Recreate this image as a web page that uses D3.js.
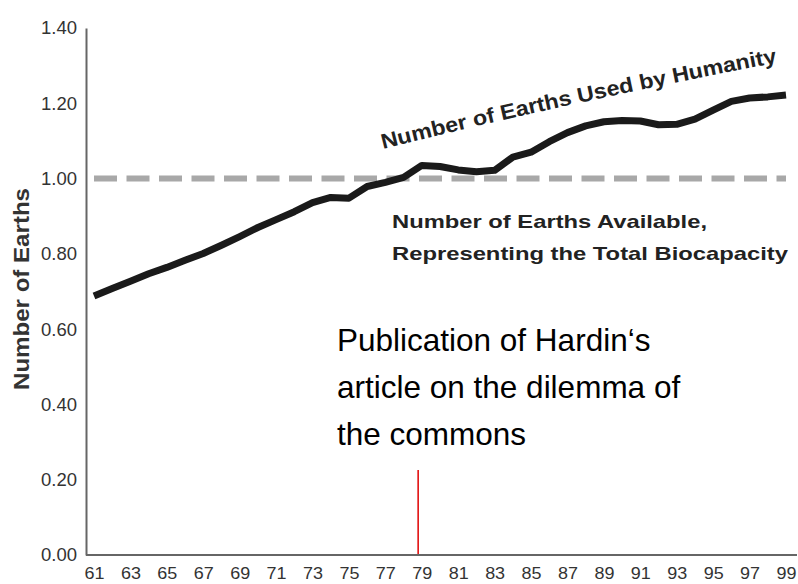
<!DOCTYPE html>
<html>
<head>
<meta charset="utf-8">
<script src="https://cdn.jsdelivr.net/npm/d3@7"></script>
<style>
  body { margin: 0; background: #fff; }
  text { font-family: "Liberation Sans", Arial, sans-serif; }
</style>
</head>
<body>
<div id="chart"></div>
<script>
// data
const years = [61,62,63,64,65,66,67,68,69,70,71,72,73,74,75,76,77,78,79,80,
               81,82,83,84,85,86,87,88,89,90,91,92,93,94,95,96,97,98,99];
const earthsUsed = [0.688,0.708,0.727,0.747,0.764,0.783,0.801,0.823,0.846,0.870,
                    0.891,0.912,0.936,0.950,0.948,0.979,0.990,1.003,1.035,1.032,
                    1.023,1.018,1.022,1.057,1.070,1.098,1.122,1.140,1.151,1.154,
                    1.153,1.143,1.144,1.158,1.182,1.205,1.214,1.217,1.222];
const capacityYears = [61, 99];
const capacityValues = [1.0, 1.0];
const xTicks = [61,63,65,67,69,71,73,75,77,79,81,83,85,87,89,91,93,95,97,99];
const yTicks = [0, 0.2, 0.4, 0.6, 0.8, 1.0, 1.2, 1.4];
const hardinYear = 78.8;

const width = 798, height = 584;

const svg = d3.select("#chart")
  .append("svg")
  .attr("width", width)
  .attr("height", height);

// scales
const x = d3.scaleLinear().domain([61, 99]).range([94, 786]);
const y = d3.scaleLinear().domain([0, 1.4]).range([555, 28]);

// Y axis
const yAxis = svg.append("g")
  .attr("transform", "translate(86,0)")
  .call(d3.axisLeft(y).tickValues(yTicks).tickFormat(d3.format(".2f")).tickSize(0).tickPadding(9));
yAxis.select(".domain").attr("stroke", "#666").attr("stroke-width", 2);
yAxis.selectAll("text").attr("font-size", 18.5).attr("fill", "#333");

// X axis
const xAxis = svg.append("g")
  .attr("transform", "translate(0,555)")
  .call(d3.axisBottom(x).tickValues(xTicks).tickFormat(d => d).tickSize(0).tickPadding(12));
xAxis.select(".domain").attr("d", "M86,0H797").attr("stroke", "#666").attr("stroke-width", 2);
xAxis.selectAll("text").attr("font-size", 17).attr("fill", "#333")
  .attr("textLength", 20).attr("lengthAdjust", "spacingAndGlyphs");

// Y title
svg.append("text")
  .attr("transform", "translate(29,289) rotate(-90)")
  .attr("text-anchor", "middle")
  .attr("font-size", 22)
  .attr("font-weight", "bold")
  .attr("fill", "#333")
  .attr("textLength", 202)
  .attr("lengthAdjust", "spacingAndGlyphs")
  .text("Number of Earths");

// biocapacity dashed line
const capLine = d3.line().x(d => x(d[0])).y(d => y(d[1]));
svg.append("path")
  .datum(d3.zip(capacityYears, capacityValues))
  .attr("d", capLine)
  .attr("fill", "none")
  .attr("stroke", "#a8a8a8")
  .attr("stroke-width", 6)
  .attr("stroke-dasharray", "23,9.5");

// humanity line
const line = d3.line().x(d => x(d[0])).y(d => y(d[1]));
svg.append("path")
  .datum(d3.zip(years, earthsUsed))
  .attr("d", line)
  .attr("fill", "none")
  .attr("stroke", "#1a1a1a")
  .attr("stroke-width", 7)
  .attr("stroke-linejoin", "round");

// curved label along the rising line
svg.append("path")
  .attr("id", "usedPath")
  .attr("d", "M383,149 Q560,104 780,62")
  .attr("fill", "none");
svg.append("text")
  .attr("font-size", 21)
  .attr("font-weight", "bold")
  .attr("fill", "#222")
  .append("textPath")
  .attr("href", "#usedPath")
  .attr("textLength", 404)
  .attr("lengthAdjust", "spacingAndGlyphs")
  .text("Number of Earths Used by Humanity");

// biocapacity label
svg.append("text")
  .attr("x", 392).attr("y", 228)
  .attr("font-size", 19).attr("font-weight", "bold").attr("fill", "#222")
  .attr("textLength", 315).attr("lengthAdjust", "spacingAndGlyphs")
  .text("Number of Earths Available,");
svg.append("text")
  .attr("x", 392).attr("y", 260)
  .attr("font-size", 19).attr("font-weight", "bold").attr("fill", "#222")
  .attr("textLength", 396).attr("lengthAdjust", "spacingAndGlyphs")
  .text("Representing the Total Biocapacity");

// Hardin marker
svg.append("line")
  .attr("x1", x(hardinYear)).attr("x2", x(hardinYear))
  .attr("y1", 470).attr("y2", 554)
  .attr("stroke", "#e00000")
  .attr("stroke-width", 1.5);

const note = ["Publication of Hardin\u2018s", "article on the dilemma of", "the commons"];
svg.append("g").selectAll("text")
  .data(note)
  .join("text")
  .attr("x", 337)
  .attr("y", (d, i) => 351 + i * 47)
  .attr("font-size", 31.5)
  .attr("fill", "#000")
  .text(d => d);
</script>
</body>
</html>
